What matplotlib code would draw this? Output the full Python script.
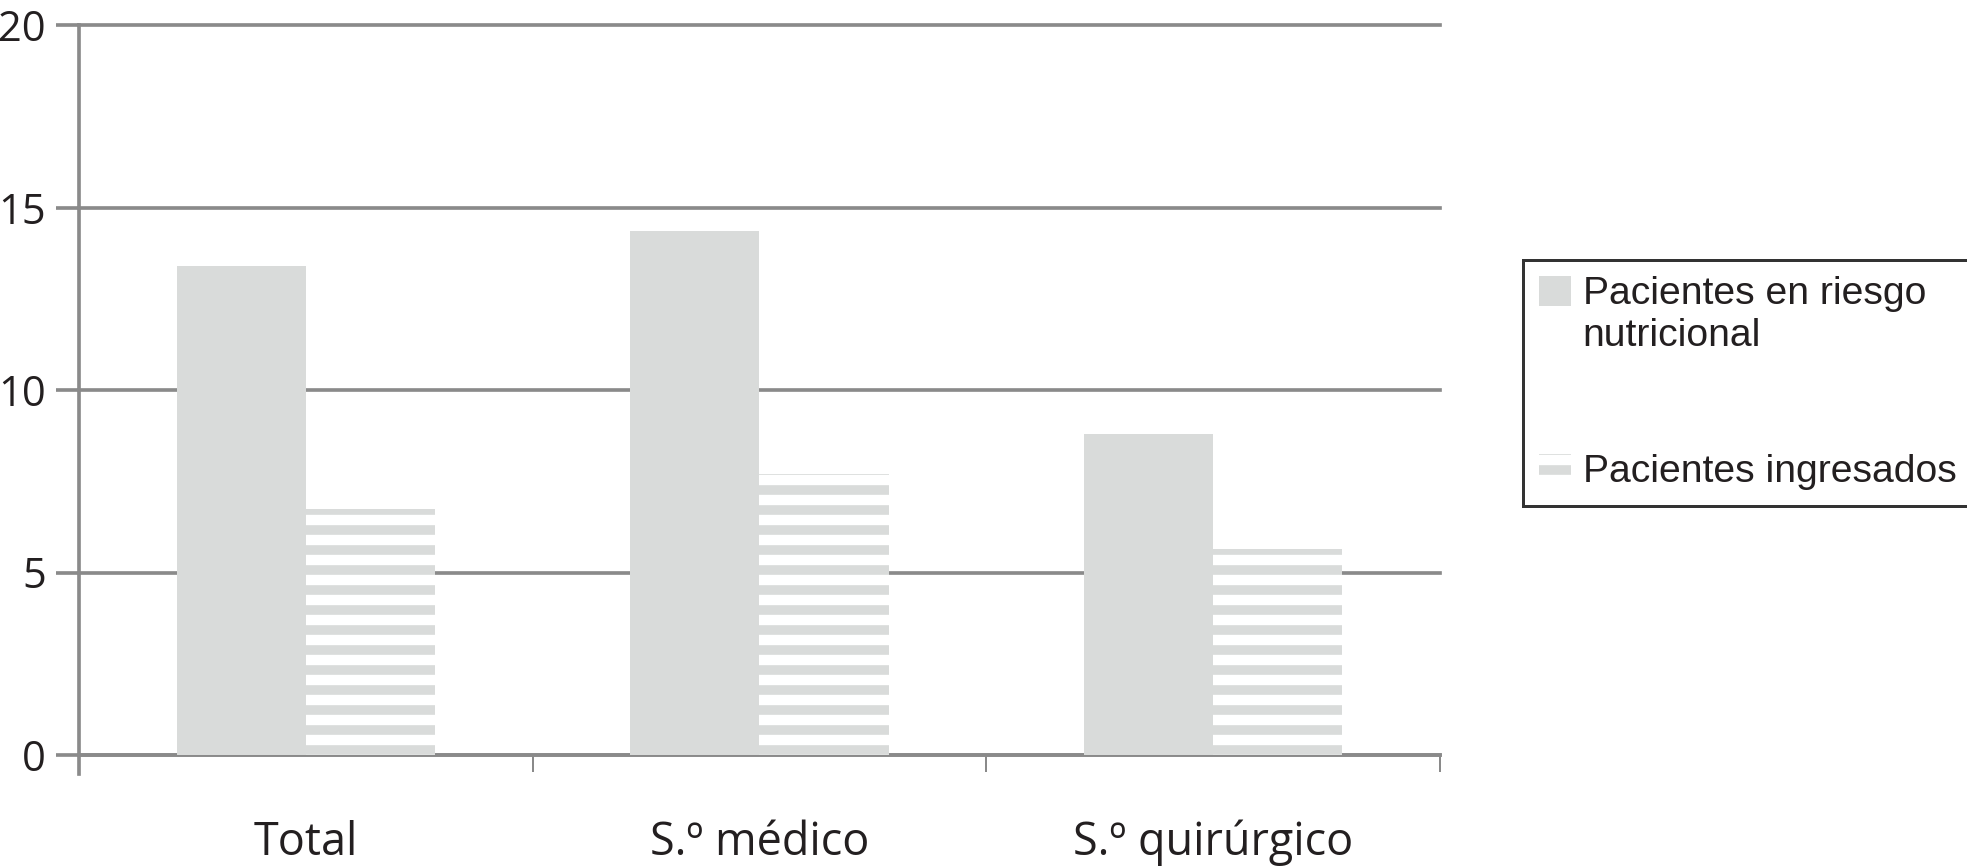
import matplotlib.pyplot as plt
import numpy as np

categories = ["Total", "S.º médico", "S.º quirúrgico"]
riesgo = [13.4, 14.35, 8.8]        # Pacientes en riesgo nutricional
ingresados = [6.75, 7.7, 5.65]     # Pacientes ingresados
labels = ["Pacientes en riesgo\nnutricional", "Pacientes ingresados"]
yticks = [0, 5, 10, 15, 20]

bar_grey = "#d9dbda"
line_grey = "#8a8a8a"
text_col = "#231f20"

plt.rcParams["hatch.linewidth"] = 5.8

fig = plt.figure(figsize=(1968 / 120, 867 / 120), dpi=120)
ax = fig.add_axes([79 / 1968, 1 - 755 / 867, (1440 - 79) / 1968, (755 - 25) / 867])

x = np.arange(len(categories))
w = 0.285
ax.bar(x - w / 2, riesgo, w, color=bar_grey, linewidth=0, label=labels[0], zorder=3)
ax.bar(x + w / 2, ingresados, w, facecolor="white", edgecolor=bar_grey, hatch="-",
       linewidth=0, label=labels[1], zorder=3)

ax.set_xlim(-0.5, 2.5)
ax.set_ylim(0, 20)
ax.set_yticks(yticks)
ax.yaxis.grid(True, color=line_grey, linewidth=2.2, zorder=0)
ax.set_axisbelow(True)
for gl in ax.get_ygridlines():
    gl.set_clip_on(False)

for s in ["top", "right"]:
    ax.spines[s].set_visible(False)
for s in ["left", "bottom"]:
    ax.spines[s].set_color(line_grey)
    ax.spines[s].set_linewidth(2.2)
ax.spines["left"].set_bounds(-0.52, 20)

ax.tick_params(axis="y", length=14, width=2.2, color=line_grey, pad=6,
               labelsize=25, labelcolor=text_col)
for t in ax.get_yticklabels():
    t.set_fontfamily("Open Sans")

ax.set_xticks(x)
ax.set_xticklabels(categories, fontsize=27, color=text_col, family="Open Sans")
ax.tick_params(axis="x", which="major", length=0, pad=39)
ax.set_xticks([-0.5, 0.5, 1.5, 2.5], minor=True)
ax.tick_params(axis="x", which="minor", length=10, width=1.2, color=line_grey)

leg = fig.legend(loc="upper left", bbox_to_anchor=(1523 / 1968, 1 - 260 / 867),
                 prop={"family": "Liberation Sans", "size": 23.5},
                 frameon=True, fancybox=False, edgecolor="black",
                 handlelength=0.8, handleheight=0.8, handletextpad=0.3,
                 labelspacing=2.55, borderpad=0.42, borderaxespad=0)
leg.get_frame().set_linewidth(1.8)
for t in leg.get_texts():
    t.set_color(text_col)
# put the handle beside the first line of a wrapped label
for col in leg._legend_handle_box.get_children():
    for row in col.get_children():
        row.align = "top"

fig.savefig("out.png", dpi=120)
